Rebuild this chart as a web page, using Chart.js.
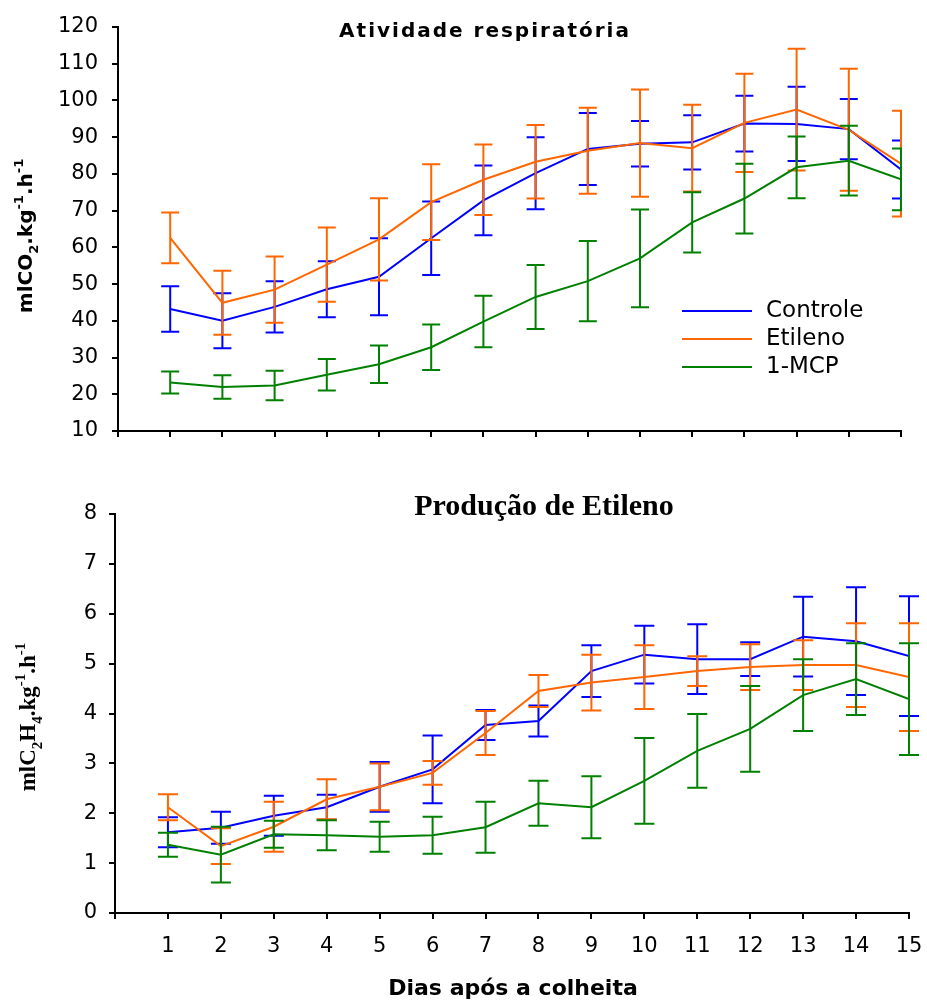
<!DOCTYPE html>
<html lang="pt">
<head>
<meta charset="utf-8">
<title>Atividade respiratória e produção de etileno</title>
<script src="https://cdn.jsdelivr.net/npm/chart.js@4.4.1/dist/chart.umd.min.js"></script>
<style>
  html, body { margin: 0; padding: 0; background: #fff; }
  #wrap { position: relative; width: 927px; height: 1001px; }
  canvas { position: absolute; left: 0; }
  #respCanvas { top: 0; }
  #etilCanvas { top: 460px; }
</style>
</head>
<body>
<div id="wrap">
  <canvas id="respCanvas" width="927" height="460"></canvas>
  <canvas id="etilCanvas" width="927" height="541"></canvas>
</div>
<script>
// dias após a colheita
var dias = [1, 2, 3, 4, 5, 6, 7, 8, 9, 10, 11, 12, 13, 14, 15];
var tratamentos = ['Controle', 'Etileno', '1-MCP'];
var cores = ['#0000ff', '#ff6600', '#008000'];

// atividade respiratória (mL CO2 / kg / h) e desvio
var co2Controle = [43.2, 40.0, 43.8, 48.6, 52.0, 62.5, 72.8, 80.2, 86.8, 88.2, 88.6, 93.7, 93.6, 92.2, 81.2];
var co2ControleErro = [6.2, 7.5, 7.0, 7.6, 10.5, 10.0, 9.5, 9.8, 9.8, 6.2, 7.4, 7.6, 10.1, 8.2, 7.9];
var co2Etileno = [62.6, 44.9, 48.5, 55.3, 62.2, 72.3, 78.4, 83.3, 86.3, 88.4, 87.0, 93.9, 97.5, 92.0, 82.8];
var co2EtilenoErro = [6.9, 8.7, 9.0, 10.1, 11.2, 10.3, 9.6, 10.0, 11.7, 14.6, 11.8, 13.4, 16.6, 16.6, 14.4];
var co2Mcp = [23.2, 22.0, 22.4, 25.3, 28.2, 32.8, 39.8, 46.5, 50.8, 57.0, 66.8, 73.3, 81.8, 83.6, 78.5];
var co2McpErro = [3.0, 3.2, 4.0, 4.3, 5.1, 6.2, 7.0, 8.7, 10.9, 13.3, 8.2, 9.5, 8.4, 9.5, 8.4];

// produção de etileno (mL C2H4 / kg / h) e desvio
var etiControle = [1.62, 1.71, 1.95, 2.12, 2.53, 2.88, 3.77, 3.85, 4.85, 5.18, 5.09, 5.09, 5.54, 5.45, 5.15];
var etiControleErro = [0.30, 0.32, 0.40, 0.25, 0.50, 0.68, 0.30, 0.31, 0.52, 0.58, 0.70, 0.34, 0.80, 1.08, 1.20];
var etiEtileno = [2.12, 1.34, 1.73, 2.28, 2.53, 2.81, 3.61, 4.45, 4.62, 4.73, 4.85, 4.93, 4.97, 4.97, 4.73];
var etiEtilenoErro = [0.26, 0.36, 0.50, 0.40, 0.47, 0.24, 0.44, 0.32, 0.56, 0.64, 0.30, 0.46, 0.50, 0.84, 1.08];
var etiMcp = [1.37, 1.17, 1.58, 1.56, 1.53, 1.56, 1.72, 2.20, 2.12, 2.65, 3.25, 3.69, 4.37, 4.69, 4.29];
var etiMcpErro = [0.24, 0.56, 0.27, 0.30, 0.30, 0.37, 0.51, 0.45, 0.62, 0.86, 0.74, 0.86, 0.72, 0.72, 1.12];

var fonte = 'DejaVu Sans';

function serie(i, valores, erros) {
    return {
        label: tratamentos[i],
        data: dias.map(function (d, k) { return { x: d, y: valores[k] }; }),
        erro: erros,
        borderColor: cores[i],
        backgroundColor: cores[i],
        borderWidth: 2,
        pointRadius: 0,
        fill: false,
        order: 2 - i
    };
}

// barras de erro desenhadas logo depois de cada linha
var barrasErro = {
    id: 'barrasErro',
    afterDatasetDraw: function (chart, args, opts) {
        var ds = chart.data.datasets[args.index];
        if (!ds.erro) return;
        var ctx = chart.ctx;
        var xs = chart.scales.x, ys = chart.scales.y, area = chart.chartArea;
        var w = opts.capa || 9;
        ctx.save();
        if (opts.clip) {
            ctx.beginPath();
            ctx.rect(area.left - 2, 0, area.right - area.left + 3, chart.height);
            ctx.clip();
        }
        ctx.strokeStyle = ds.borderColor;
        ctx.lineWidth = 2;
        ds.data.forEach(function (p, i) {
            var x = xs.getPixelForValue(p.x);
            var yTop = ys.getPixelForValue(p.y + ds.erro[i]);
            var yBot = ys.getPixelForValue(p.y - ds.erro[i]);
            ctx.beginPath();
            ctx.moveTo(x, yTop); ctx.lineTo(x, yBot);
            ctx.moveTo(x - w, yTop); ctx.lineTo(x + w, yTop);
            ctx.moveTo(x - w, yBot); ctx.lineTo(x + w, yBot);
            ctx.stroke();
        });
        ctx.restore();
    }
};

// texto com índices (sub/sobrescritos), opcionalmente girado
function desenhaPartes(ctx, partes, x, y, tam, familia, peso, girado) {
    var pequeno = Math.round(tam * 0.65);
    function fontDe(p) { return peso + ' ' + (p.sub || p.sup ? pequeno : tam) + 'px "' + familia + '"'; }
    var total = 0;
    partes.forEach(function (p) { ctx.font = fontDe(p); total += ctx.measureText(p.t).width; });
    ctx.save();
    ctx.translate(x, y);
    if (girado) ctx.rotate(-Math.PI / 2);
    ctx.fillStyle = '#000';
    ctx.textBaseline = 'alphabetic';
    ctx.textAlign = 'left';
    var pos = -total / 2;
    partes.forEach(function (p) {
        ctx.font = fontDe(p);
        var dy = p.sub ? tam * 0.3 : (p.sup ? -tam * 0.45 : 0);
        ctx.fillText(p.t, pos, dy);
        pos += ctx.measureText(p.t).width;
    });
    ctx.restore();
}

var textos = {
    id: 'textos',
    afterDraw: function (chart, args, o) {
        var ctx = chart.ctx;
        ctx.save();
        ctx.fillStyle = '#000';
        ctx.textAlign = 'center';
        ctx.textBaseline = 'alphabetic';
        if (o.titulo) {
            ctx.font = o.titulo.font;
            ctx.letterSpacing = o.titulo.espaco || '0px';
            ctx.fillText(o.titulo.texto, o.titulo.x, o.titulo.y);
            ctx.letterSpacing = '0px';
        }
        if (o.tituloX) {
            ctx.font = o.tituloX.font;
            ctx.fillText(o.tituloX.texto, o.tituloX.x, o.tituloX.y);
        }
        ctx.restore();
        if (o.tituloY) {
            var t = o.tituloY;
            desenhaPartes(ctx, t.partes, t.x, t.y, t.tam, t.familia, 'bold', true);
        }
        if (o.legenda) {
            var L = o.legenda;
            ctx.save();
            ctx.font = L.font;
            ctx.textAlign = 'left';
            ctx.textBaseline = 'alphabetic';
            chart.data.datasets.forEach(function (ds, i) {
                var y = L.y + i * L.passo;
                ctx.strokeStyle = ds.borderColor;
                ctx.lineWidth = 2;
                ctx.beginPath();
                ctx.moveTo(L.x, y);
                ctx.lineTo(L.x + 70, y);
                ctx.stroke();
                ctx.fillStyle = '#000';
                ctx.fillText(ds.label, L.x + 84, y + 6);
            });
            ctx.restore();
        }
    }
};

function grade() {
    return { drawOnChartArea: false, color: '#000', lineWidth: 2, tickLength: 6 };
}

// altura fixa do eixo x, sem folga lateral para os rótulos
function eixoX(altura) {
    return function (s) {
        s.height = altura;
        s.paddingLeft = 0;
        s.paddingRight = 0;
    };
}

// gráfico de cima: atividade respiratória
new Chart(document.getElementById('respCanvas'), {
    type: 'line',
    data: {
        datasets: [
            serie(0, co2Controle, co2ControleErro),
            serie(1, co2Etileno, co2EtilenoErro),
            serie(2, co2Mcp, co2McpErro)
        ]
    },
    options: {
        responsive: false,
        animation: false,
        layout: { autoPadding: false, padding: { top: 27, right: 26, left: 0, bottom: 0 } },
        elements: { line: { tension: 0 } },
        scales: {
            x: {
                type: 'linear', min: 0, max: 15,
                afterFit: eixoX(29),
                ticks: { stepSize: 1, display: false },
                grid: grade(),
                border: { color: '#000', width: 2 }
            },
            y: {
                min: 10, max: 120,
                afterFit: function (s) { s.width = 118; },
                ticks: { stepSize: 10, padding: 14, color: '#000', font: { family: fonte, size: 21 } },
                grid: grade(),
                border: { color: '#000', width: 2 }
            }
        },
        plugins: {
            legend: { display: false },
            tooltip: { enabled: false },
            barrasErro: { clip: true, capa: 9 },
            textos: {
                titulo: { texto: 'Atividade respiratória', x: 485, y: 37, font: 'bold 20px "DejaVu Sans"', espaco: '2px' },
                tituloY: {
                    partes: [{ t: 'mlCO' }, { t: '2', sub: true }, { t: '.kg' }, { t: '-1', sup: true }, { t: '.h' }, { t: '-1', sup: true }],
                    x: 32, y: 236, tam: 20, familia: fonte
                },
                legenda: { x: 682, y: 311, passo: 28, font: '23px "DejaVu Sans"' }
            }
        }
    },
    plugins: [barrasErro, textos]
});

// gráfico de baixo: produção de etileno
new Chart(document.getElementById('etilCanvas'), {
    type: 'line',
    data: {
        datasets: [
            serie(0, etiControle, etiControleErro),
            serie(1, etiEtileno, etiEtilenoErro),
            serie(2, etiMcp, etiMcpErro)
        ]
    },
    options: {
        responsive: false,
        animation: false,
        layout: { autoPadding: false, padding: { top: 54, right: 18, left: 0, bottom: 0 } },
        elements: { line: { tension: 0 } },
        scales: {
            x: {
                type: 'linear', min: 0, max: 15,
                afterFit: eixoX(88),
                ticks: {
                    stepSize: 1, autoSkip: false, maxRotation: 0, padding: 15, color: '#000',
                    font: { family: fonte, size: 21 },
                    callback: function (v) { return v === 0 ? '' : v; }
                },
                grid: grade(),
                border: { color: '#000', width: 2 }
            },
            y: {
                min: 0, max: 8,
                afterFit: function (s) { s.width = 115; },
                ticks: { stepSize: 1, padding: 12, color: '#000', font: { family: fonte, size: 21 } },
                grid: grade(),
                border: { color: '#000', width: 2 }
            }
        },
        plugins: {
            legend: { display: false },
            tooltip: { enabled: false },
            barrasErro: { clip: false, capa: 10 },
            textos: {
                titulo: { texto: 'Produção de Etileno', x: 544, y: 55, font: 'bold 30px "Liberation Serif"' },
                tituloX: { texto: 'Dias após a colheita', x: 513, y: 535, font: 'bold 22px "DejaVu Sans"' },
                tituloY: {
                    partes: [{ t: 'mlC' }, { t: '2', sub: true }, { t: 'H' }, { t: '4', sub: true }, { t: '.kg' }, { t: '-1', sup: true }, { t: '.h' }, { t: '-1', sup: true }],
                    x: 35, y: 257, tam: 23, familia: 'Liberation Serif'
                }
            }
        }
    },
    plugins: [barrasErro, textos]
});
</script>
</body>
</html>
